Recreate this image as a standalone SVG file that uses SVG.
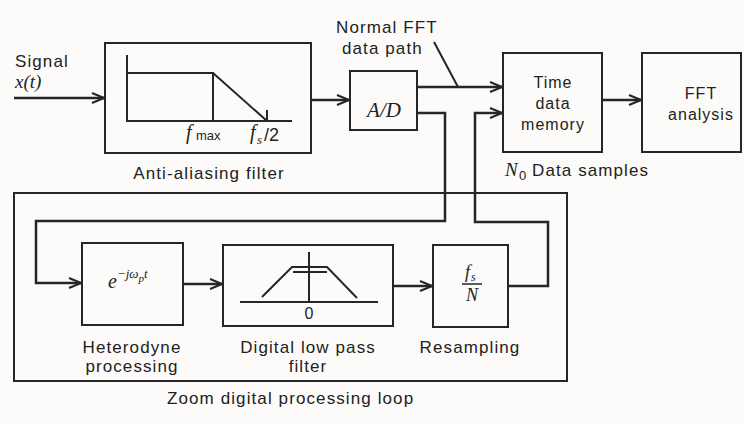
<svg xmlns="http://www.w3.org/2000/svg" width="744" height="424" viewBox="0 0 744 424">
<defs>
<style>
.bg{fill:#fcfbf9}
.box{fill:none;stroke:#262626;stroke-width:2}
.ln{fill:none;stroke:#262626;stroke-width:2.5}
.gr{fill:none;stroke:#262626;stroke-width:2}
.lab{font-family:"Liberation Sans",Arial,sans-serif;font-size:17px;letter-spacing:1.1px;fill:#222}
.in{font-family:"Liberation Sans",Arial,sans-serif;font-size:16px;letter-spacing:1px;fill:#222}
.m{font-family:"Liberation Serif","Times New Roman",serif;font-style:italic;fill:#222}
.c{text-anchor:middle}
</style>
<marker id="arr" viewBox="0 0 14 12" refX="13" refY="6" markerWidth="14" markerHeight="12" markerUnits="userSpaceOnUse" orient="auto">
<path d="M1,1 L13,6 L1,11" fill="none" stroke="#262626" stroke-width="2"/>
</marker>
</defs>
<rect class="bg" x="0" y="0" width="744" height="424"/>

<g id="signal-label">
<text class="lab" x="15" y="67">Signal</text>
<text class="m" x="15" y="88" font-size="19">x(t)</text>
</g>

<g id="anti-aliasing-filter">
<rect class="box" x="105" y="43" width="206" height="110"/>
<path class="gr" d="M127,55 V121 H292 M127,73 H213 V121 M213,73 L267,121 M267,110 V121"/>
<text class="m" x="186" y="139" font-size="20">f</text>
<text x="196" y="140" font-family="Liberation Sans,Arial,sans-serif" font-size="13" fill="#222">max</text>
<text class="m" x="250" y="139" font-size="20">f</text>
<text class="m" x="257" y="144" font-size="13">s</text>
<text x="264" y="141" font-family="Liberation Sans,Arial,sans-serif" font-size="18" fill="#222">/2</text>
<text class="lab c" x="209" y="179">Anti-aliasing filter</text>
</g>

<g id="ad-converter">
<rect class="box" x="350" y="71" width="67" height="59"/>
<text class="m c" x="384" y="117" font-size="21">A/D</text>
</g>

<g id="normal-path-label">
<text class="lab" x="336" y="33">Normal FFT</text>
<text class="lab" x="342" y="54">data path</text>
</g>

<g id="time-data-memory">
<rect class="box" x="503" y="53" width="99" height="99"/>
<text class="in c" x="553" y="88">Time</text>
<text class="in c" x="553" y="109">data</text>
<text class="in c" x="553" y="130">memory</text>
</g>

<g id="fft-analysis">
<rect class="box" x="642" y="53" width="99" height="99"/>
<text class="in c" x="701" y="99">FFT</text>
<text class="in c" x="701" y="120">analysis</text>
</g>

<g id="samples-label">
<text class="m" x="505" y="176" font-size="19">N</text>
<text x="519" y="180" font-family="Liberation Sans,Arial,sans-serif" font-size="13" fill="#222">0</text>
<text class="lab" x="532" y="176">Data samples</text>
</g>

<g id="zoom-loop">
<rect class="box" x="14" y="193" width="553" height="188"/>
<text class="lab" x="167" y="404">Zoom digital processing loop</text>
</g>

<g id="heterodyne">
<rect class="box" x="82" y="243" width="101" height="82"/>
<text class="m" x="108" y="288" font-size="20">e<tspan font-size="13" dy="-10">−jω</tspan><tspan font-size="11" dy="4">p</tspan><tspan font-size="13" dy="-4">t</tspan></text>
<text class="lab c" x="132" y="353">Heterodyne</text>
<text class="lab c" x="132" y="372">processing</text>
</g>

<g id="digital-low-pass">
<rect class="box" x="223" y="245" width="170" height="81"/>
<path class="gr" d="M240,302 H378 M309,252 V302 M262,297 L292,267 H327 L357,298 M293,272 H327"/>
<text x="309" y="319" text-anchor="middle" font-family="Liberation Sans,Arial,sans-serif" font-size="16" fill="#222">0</text>
<text class="lab c" x="308" y="353">Digital low pass</text>
<text class="lab c" x="308" y="372">filter</text>
</g>

<g id="resampling">
<rect class="box" x="433" y="245" width="75" height="82"/>
<text class="m" x="465" y="278" font-size="18">f</text>
<text class="m" x="471" y="281" font-size="12">s</text>
<path d="M462,284 H482" stroke="#262626" stroke-width="1.5"/>
<text class="m c" x="472" y="301" font-size="18">N</text>
<text class="lab c" x="470" y="353">Resampling</text>
</g>

<g id="connectors">
<path class="ln" d="M14,98 H104" marker-end="url(#arr)"/>
<path class="ln" d="M311,100 H349" marker-end="url(#arr)"/>
<path class="ln" d="M417,87 H502" marker-end="url(#arr)"/>
<path class="gr" d="M434,42 L458,87"/>
<path class="ln" d="M602,100 H641" marker-end="url(#arr)"/>
<path class="ln" d="M417,113 H445 V221 H36 V283 H81" marker-end="url(#arr)"/>
<path class="ln" d="M183,284 H222" marker-end="url(#arr)"/>
<path class="ln" d="M393,286 H432" marker-end="url(#arr)"/>
<path class="ln" d="M508,286 H548 V222 H475 V113 H502" marker-end="url(#arr)"/>
</g>
</svg>
